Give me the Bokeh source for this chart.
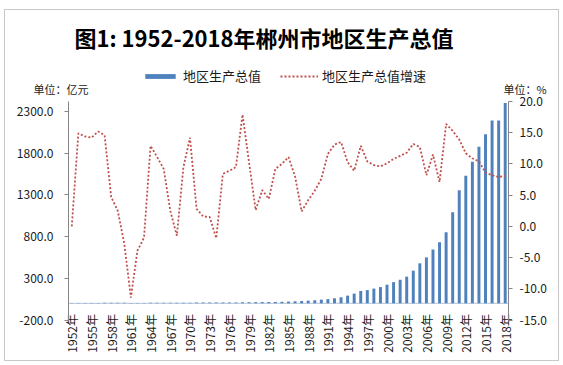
import math
from bokeh.plotting import figure
from bokeh.models import (Range1d, LinearAxis, FixedTicker, NumeralTickFormatter,
                          Label, Legend, LegendItem, ColumnDataSource)
from bokeh.embed import file_html
from bokeh.resources import INLINE

# ---------------- data ----------------
years = list(range(1952, 2019))

gdp = [2.8, 3.2, 3.6, 4.1, 4.7, 5.3, 5.6, 5.7, 5.5, 4.9,
       4.7, 4.6, 5.2, 5.8, 6.3, 6.5, 6.4, 7.0, 8.0, 8.2,
       8.3, 8.4, 8.3, 9.0, 9.8, 10.7, 12.6, 13.3, 13.6, 14.4,
       15.0, 16.4, 18.0, 21, 24, 27, 32, 37, 44, 50,
       60, 72, 92, 116, 148, 158, 176, 194, 223, 254,
       282, 319, 391, 479, 550, 645, 730, 850, 1090, 1355,
       1528, 1696, 1876, 2025, 2190, 2190, 2400]

growth = [0.0, 14.9, 14.4, 14.2, 15.2, 14.6, 4.7, 2.5, -2.8, -11.4,
          -3.9, -1.8, 12.9, 11.1, 9.2, 2.5, -1.5, 9.5, 14.2, 2.8,
          1.6, 1.5, -1.9, 8.4, 8.9, 9.5, 17.9, 10.2, 2.6, 5.8,
          4.4, 9.2, 10.0, 11.1, 8.0, 2.4, 4.2, 5.7, 7.6, 11.6,
          13.1, 13.5, 10.3, 8.9, 12.9, 10.4, 9.8, 9.6, 10.1, 10.8,
          11.3, 11.8, 13.2, 12.7, 8.2, 11.5, 7.1, 16.4, 15.3, 13.9,
          11.7, 10.9, 10.4, 8.6, 8.2, 7.9, 8.1]

x_label_years = list(range(1952, 2019, 3))
gdp_ticks = [-200, 300, 800, 1300, 1800, 2300]
rate_ticks = [-15, -10, -5, 0, 5, 10, 15, 20]
gdp_axis = (-200, 2417)
rate_axis = (-15, 20)

title_text = "图1: 1952-2018年郴州市地区生产总值"
series_names = ["地区生产总值", "地区生产总值增速"]
unit_left = "单位：亿元"
unit_right = "单位：%"

# ---------------- layout (page pixels) ----------------
FONT = "Noto Sans CJK SC"
BAR = "#4f81bd"
LINE = "#c0504d"
AXIS = "#868686"
TXT = "#1a1a1a"

W, H = 553, 350           # canvas size
OX, OY = 5, 10            # canvas top-left on the page
PL, PR, PT, PB = 68, 508, 101, 319.5   # plot area edges on the page

x_lo, x_hi = years[0] - 0.5, years[-1] + 0.5
xs = (x_hi - x_lo) / (PR - PL)
x_start = x_lo - (PL - OX) * xs
x_end = x_hi + (OX + W - PR) * xs


def stretched(lo, hi):
    s = (hi - lo) / (PB - PT)
    return Range1d(lo - (OY + H - PB) * s, hi + (PT - OY) * s)


def sx(px):   # page x -> screen units (from frame left)
    return px - OX


def sy(py):   # page y -> screen units (from frame bottom)
    return OY + H - py


src = ColumnDataSource(dict(year=years, gdp=gdp, growth=growth))

p = figure(width=W, height=H, output_backend="svg", toolbar_location=None,
           title=None, x_range=Range1d(x_start, x_end),
           y_range=stretched(*gdp_axis),
           min_border_left=0, min_border_right=0, min_border_top=0,
           min_border_bottom=0)
p.extra_y_ranges = {"rate": stretched(*rate_axis)}
p.outline_line_color = None
p.grid.visible = False
p.background_fill_color = "white"
p.border_fill_color = "white"
p.styles = {"outline": "1px solid #c8c8c8", "position": "relative",
            "left": f"{OX}px", "top": f"{OY}px"}

# zero line (Excel's category axis crossing at 0)
p.segment(x0=[x_lo], y0=[0], x1=[x_hi], y1=[0], line_color="#b4c3d6", line_width=1)

bars = p.vbar(x="year", top="gdp", bottom=0, width=0.45, source=src,
              fill_color=BAR, line_color=None)
line = p.line(x="year", y="growth", y_range_name="rate", source=src,
              line_color=LINE, line_width=1.8, line_dash="2 2")

# x axis
xa = p.xaxis[0]
xa.fixed_location = gdp_axis[0]
xa.bounds = (x_lo, x_hi)
xa.ticker = FixedTicker(ticks=x_label_years)
xa.major_label_overrides = {y: f"{y}年" for y in x_label_years}
xa.major_label_orientation = math.pi / 2
xa.axis_line_color = None
xa.major_tick_line_color = None
xa.minor_tick_line_color = None
xa.major_tick_out = 0
xa.major_tick_in = 0
xa.major_label_standoff = -6
xa.major_label_text_font = FONT
xa.major_label_text_font_size = "12px"
xa.major_label_text_color = TXT

# left axis
ya = p.yaxis[0]
ya.fixed_location = x_lo
ya.bounds = gdp_axis
ya.ticker = FixedTicker(ticks=gdp_ticks)
ya.formatter = NumeralTickFormatter(format="0.0")
ya.axis_line_color = AXIS
ya.major_tick_line_color = AXIS
ya.minor_tick_line_color = None
ya.major_tick_out = 4
ya.major_tick_in = 0
ya.major_label_standoff = 11
ya.major_label_text_font = FONT
ya.major_label_text_font_size = "12px"
ya.major_label_text_color = TXT

# right axis
ra = LinearAxis(y_range_name="rate", fixed_location=x_hi, bounds=rate_axis,
                ticker=FixedTicker(ticks=rate_ticks),
                formatter=NumeralTickFormatter(format="0.0"))
ra.axis_line_color = AXIS
ra.major_tick_line_color = AXIS
ra.minor_tick_line_color = None
ra.major_tick_out = 4
ra.major_tick_in = 0
ra.major_label_standoff = 7
ra.major_label_text_font = FONT
ra.major_label_text_font_size = "12px"
ra.major_label_text_color = TXT
p.add_layout(ra, "right")

# legend
legend = Legend(items=[LegendItem(label=series_names[0], renderers=[bars]),
                       LegendItem(label=series_names[1], renderers=[line])],
                location=(sx(141), sy(85)), orientation="horizontal",
                glyph_width=38, glyph_height=6, label_height=6,
                label_standoff=4, spacing=19,
                padding=0, margin=0, border_line_color=None,
                background_fill_alpha=0, label_text_font=FONT,
                label_text_font_size="13px", label_text_color=TXT,
                label_text_baseline="alphabetic")
p.add_layout(legend, "center")

# title & unit labels
p.add_layout(Label(x=sx(263.5), y=sy(36.5), x_units="screen", y_units="screen",
                   text=title_text, text_align="center", text_baseline="middle",
                   text_font=FONT, text_font_style="bold", text_font_size="22px",
                   text_color="#000000"))
p.add_layout(Label(x=sx(33), y=sy(88), x_units="screen", y_units="screen",
                   text=unit_left, text_align="left", text_baseline="middle",
                   text_font=FONT, text_font_size="11px", text_color=TXT))
p.add_layout(Label(x=sx(503), y=sy(88), x_units="screen", y_units="screen",
                   text=unit_right, text_align="left", text_baseline="middle",
                   text_font=FONT, text_font_size="11px", text_color=TXT))

open("out.html", "w").write(file_html(p, INLINE))
